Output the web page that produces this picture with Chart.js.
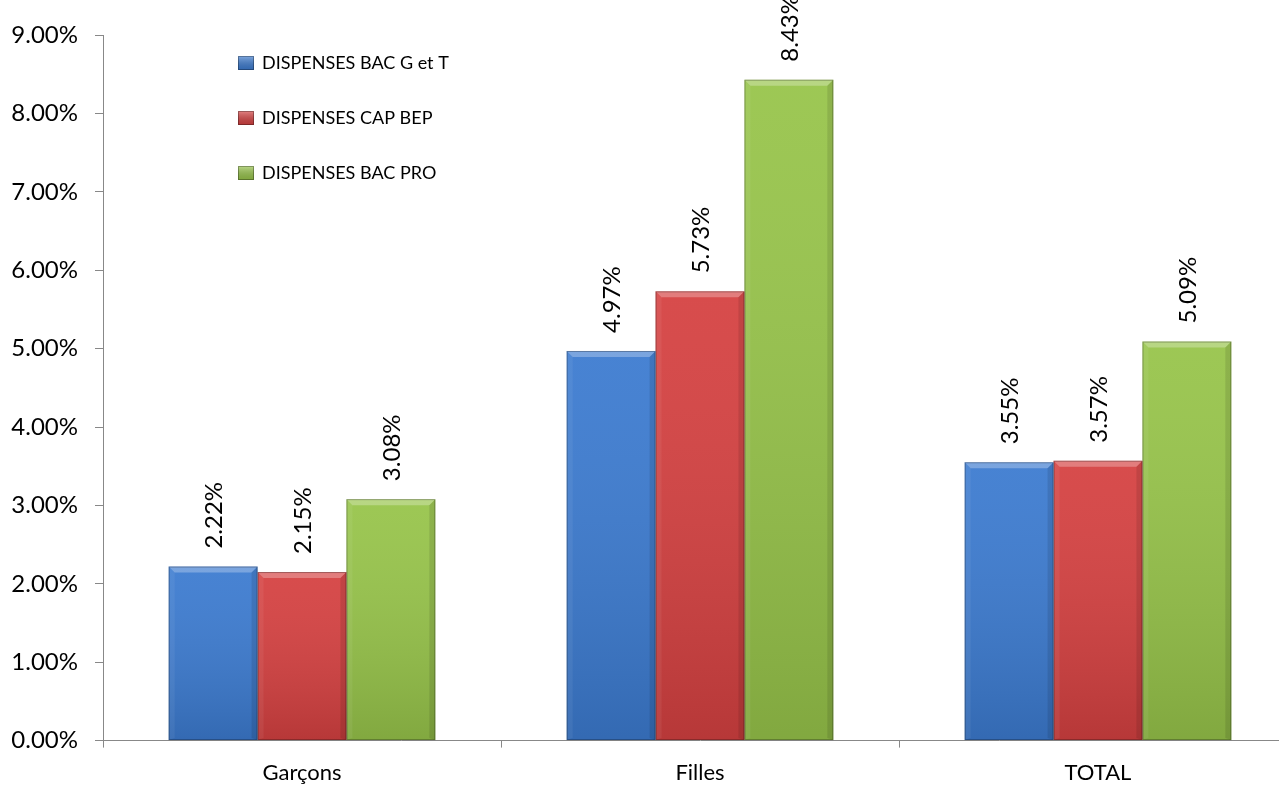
<!DOCTYPE html>
<html>
<head>
<meta charset="utf-8">
<script src="https://cdn.jsdelivr.net/npm/chart.js@4"></script>
<style>
  html, body { margin: 0; padding: 0; background: #fff; overflow: hidden; }
  #wrap { width: 1297px; height: 798px; position: relative; }
</style>
</head>
<body>
<div id="wrap"><canvas id="chart"></canvas></div>
<script>
// DATA
const categories = ["Garçons", "Filles", "TOTAL"];
const seriesNames = ["DISPENSES BAC G et T", "DISPENSES CAP BEP", "DISPENSES BAC PRO"];
const bacGT = [2.22, 4.97, 3.55];
const capBep = [2.15, 5.73, 3.57];
const bacPro = [3.08, 8.43, 5.09];
const yTicks = [0, 1, 2, 3, 4, 5, 6, 7, 8, 9];

const colors = ["#3C7BD0", "#D54141", "#97C44A"];
const FONT = "Lato, 'Open Sans', sans-serif";

// bevel + shading on each bar
const bevelPlugin = {
    id: "bevel",
    afterDatasetsDraw(chart) {
        const ctx = chart.ctx;
        chart.data.datasets.forEach((ds, i) => {
            chart.getDatasetMeta(i).data.forEach(bar => {
                const l = bar.x - bar.width / 2, r = bar.x + bar.width / 2;
                const t = bar.y, b = bar.base;
                const bv = 6;
                ctx.save();
                let g = ctx.createLinearGradient(0, t, 0, b);
                g.addColorStop(0, "rgba(255,255,255,0.06)");
                g.addColorStop(1, "rgba(0,0,0,0.14)");
                ctx.fillStyle = g;
                ctx.fillRect(l, t, r - l, b - t);
                // top
                ctx.fillStyle = "rgba(255,255,255,0.28)";
                ctx.beginPath();
                ctx.moveTo(l, t); ctx.lineTo(r, t); ctx.lineTo(r - bv, t + bv); ctx.lineTo(l + bv, t + bv);
                ctx.closePath(); ctx.fill();
                // left
                ctx.fillStyle = "rgba(255,255,255,0.06)";
                ctx.beginPath();
                ctx.moveTo(l, t); ctx.lineTo(l + bv, t + bv); ctx.lineTo(l + bv, b - 2); ctx.lineTo(l, b);
                ctx.closePath(); ctx.fill();
                // right
                ctx.fillStyle = "rgba(0,0,0,0.10)";
                ctx.beginPath();
                ctx.moveTo(r, t); ctx.lineTo(r - bv, t + bv); ctx.lineTo(r - bv, b - 2); ctx.lineTo(r, b);
                ctx.closePath(); ctx.fill();
                ctx.strokeStyle = "rgba(0,0,0,0.28)";
                ctx.lineWidth = 1;
                ctx.strokeRect(l + 0.5, t + 0.5, r - l - 1, b - t - 1);
                ctx.restore();
            });
        });
    }
};

// rotated value labels above the bars
const valueLabels = {
    id: "valueLabels",
    afterDatasetsDraw(chart) {
        const ctx = chart.ctx;
        ctx.save();
        ctx.font = "24px " + FONT;
        ctx.fillStyle = "#000";
        ctx.textAlign = "left";
        ctx.textBaseline = "middle";
        chart.data.datasets.forEach((ds, i) => {
            chart.getDatasetMeta(i).data.forEach((bar, j) => {
                ctx.save();
                ctx.translate(bar.x + 1, bar.y - 18);
                ctx.rotate(-Math.PI / 2);
                ctx.fillText(ds.data[j].toFixed(2) + "%", 0, 0);
                ctx.restore();
            });
        });
        ctx.restore();
    }
};

// legend inside the plot, top left
const innerLegend = {
    id: "innerLegend",
    afterDraw(chart) {
        const ctx = chart.ctx;
        ctx.save();
        ctx.font = "18px " + FONT;
        ctx.textBaseline = "middle";
        chart.data.datasets.forEach((ds, i) => {
            const y = 63 + i * 55;
            const x = 238;
            ctx.fillStyle = ds.backgroundColor;
            ctx.fillRect(x, y - 7, 16, 14);
            let g = ctx.createLinearGradient(0, y - 7, 0, y + 7);
            g.addColorStop(0, "rgba(255,255,255,0.35)");
            g.addColorStop(1, "rgba(0,0,0,0.15)");
            ctx.fillStyle = g;
            ctx.fillRect(x, y - 7, 16, 14);
            ctx.strokeStyle = "rgba(0,0,0,0.3)";
            ctx.strokeRect(x + 0.5, y - 6.5, 15, 13);
            ctx.fillStyle = "#000";
            ctx.fillText(ds.label, 262, y);
        });
        ctx.restore();
    }
};

new Chart(document.getElementById("chart"), {
    type: "bar",
    data: {
        labels: categories,
        datasets: [
            { label: seriesNames[0], data: bacGT, backgroundColor: colors[0] },
            { label: seriesNames[1], data: capBep, backgroundColor: colors[1] },
            { label: seriesNames[2], data: bacPro, backgroundColor: colors[2] }
        ]
    },
    options: {
        responsive: true,
        maintainAspectRatio: false,
        animation: false,
        layout: { padding: { top: 35, right: 0, left: 0, bottom: 0 } },
        plugins: {
            legend: { display: false },
            tooltip: { enabled: false }
        },
        datasets: {
            bar: { categoryPercentage: 0.67, barPercentage: 1.0, borderWidth: 0 }
        },
        scales: {
            x: {
                offset: true,
                grid: { display: true, drawOnChartArea: false, offset: true, tickLength: 7, color: "#888" },
                border: { color: "#888", width: 1 },
                ticks: { font: { family: FONT, size: 22 }, color: "#000", padding: 12 }
            },
            y: {
                min: 0,
                max: 9,
                afterBuildTicks: axis => { axis.ticks = yTicks.map(v => ({ value: v })); },
                afterFit: axis => { axis.width = 103; },
                grid: { display: true, drawOnChartArea: false, tickLength: 8, color: "#888" },
                border: { color: "#888", width: 1 },
                ticks: {
                    font: { family: FONT, size: 24 },
                    color: "#000",
                    padding: 17,
                    callback: v => v.toFixed(2) + "%"
                }
            }
        }
    },
    plugins: [bevelPlugin, valueLabels, innerLegend]
});
</script>
</body>
</html>
